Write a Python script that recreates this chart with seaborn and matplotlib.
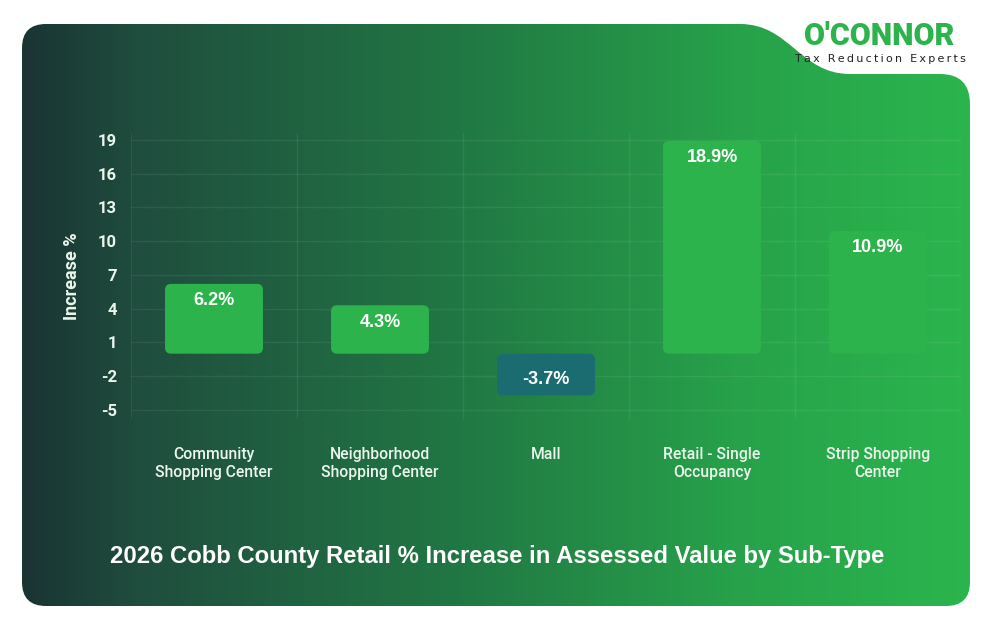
import numpy as np
import pandas as pd
import matplotlib
matplotlib.use("Agg")
import matplotlib.pyplot as plt
import seaborn as sns
from matplotlib.colors import LinearSegmentedColormap
from matplotlib.patches import FancyBboxPatch, PathPatch
from matplotlib.path import Path

# data
categories = ["Community\nShopping Center", "Neighborhood\nShopping Center", "Mall",
              "Retail - Single\nOccupancy", "Strip Shopping\nCenter"]
increase = [6.2, 4.3, -3.7, 18.9, 10.9]
y_ticks = [19, 16, 13, 10, 7, 4, 1, -2, -5]
title = "2026 Cobb County Retail % Increase in Assessed Value by Sub-Type"

GREEN = "#2cb34c"
TEAL = "#1b6c70"
TXT = "#eaf5ec"

sns.set_theme(style="white")
plt.rcParams["font.family"] = ["Roboto", "DejaVu Sans"]

W, H = 994, 632
fig = plt.figure(figsize=(W / 100, H / 100), dpi=100)
fig.patch.set_facecolor("white")

# background card with gradient
bg = fig.add_axes([0, 0, 1, 1], zorder=0)
bg.set_xlim(0, W)
bg.set_ylim(H, 0)
bg.axis("off")
cmap = LinearSegmentedColormap.from_list(
    "card", [(0, "#1a3433"), (0.12, "#1f4d3e"), (0.48, "#217a44"),
             (0.75, "#27a14a"), (1, "#2bb54e")])
grad = np.linspace(0, 1, 512).reshape(1, -1)
im = bg.imshow(grad, cmap=cmap, aspect="auto", extent=[22, 970, 606, 24])
card = FancyBboxPatch((22, 24), 948, 582, boxstyle="round,pad=0,rounding_size=24",
                      facecolor="none", edgecolor="none", transform=bg.transData)
bg.add_patch(card)
im.set_clip_path(card)

# white notch for the logo
verts = [(715, 10), (740, 24), (790, 24), (800, 74), (850, 74), (940, 74),
         (970, 74), (970, 104), (985, 104), (985, 10), (715, 10)]
codes = [Path.MOVETO, Path.LINETO, Path.CURVE4, Path.CURVE4, Path.CURVE4, Path.LINETO,
         Path.CURVE3, Path.CURVE3, Path.LINETO, Path.LINETO, Path.CLOSEPOLY]
bg.add_patch(PathPatch(Path(verts, codes), facecolor="white", edgecolor="none"))
bg.text(879, 36, "O'CONNOR", color=GREEN, fontsize=22, fontweight="black",
        ha="center", va="center", family=["Roboto", "DejaVu Sans"])
bg.text(880, 59, "\u2009".join("Tax Reduction Experts"), color="#222222", fontsize=8,
        ha="center", va="center", family="DejaVu Sans")

# chart
df = pd.DataFrame({"category": categories, "increase": increase})
ax = fig.add_axes([131 / W, 1 - 419 / H, 830 / W, 286 / H], zorder=2)
ax.set_facecolor("none")
sns.barplot(data=df, x="category", y="increase", hue="category",
            palette=[GREEN, GREEN, TEAL, GREEN, GREEN], width=0.59, saturation=1,
            legend=False, ax=ax, zorder=3)
ax.set_xlim(-0.5, 4.5)
ax.set_ylim(-5.8, 19.6)

# rounded bars
fig.canvas.draw()
bb = ax.get_window_extent()
px_x = bb.width / 5.0
px_y = bb.height / 25.4
r = 6
for p in list(ax.patches):
    x0, y0 = p.get_x(), p.get_y()
    w, h = p.get_width(), p.get_height()
    if h < 0:
        y0, h = y0 + h, -h
    fc = p.get_facecolor()
    p.remove()
    ax.add_patch(FancyBboxPatch((x0, y0), w, h,
                                boxstyle=f"round,pad=0,rounding_size={r / px_x}",
                                mutation_aspect=px_x / px_y,
                                facecolor=fc, edgecolor="none", zorder=3))

for i, v in enumerate(increase):
    off = -17 if v > 0 else 16
    ax.annotate(f"{v}%", (i, v), xytext=(0, off), textcoords="offset pixels",
                ha="center", va="center", color="white", fontsize=13,
                fontweight="bold", family=["Liberation Sans", "DejaVu Sans"], zorder=4)

grid_c = (1, 1, 1, 0.07)
for t in y_ticks:
    ax.axhline(t, color=grid_c, lw=1, zorder=1)
for xb in np.arange(-0.5, 5, 1):
    ax.axvline(xb, color=grid_c, lw=1, zorder=1)

ax.set_yticks(y_ticks)
ax.set_yticklabels([str(t) for t in y_ticks], color=TXT, fontsize=12, fontweight="bold")
ax.set_xticks(range(len(categories)))
ax.set_xticklabels(categories, color=TXT, fontsize=11.3, fontweight="medium",
                   linespacing=1.3)
ax.tick_params(axis="x", length=0, pad=20)
ax.tick_params(axis="y", length=0, pad=10)
ax.set_xlabel("")
ax.set_ylabel("Increase %", color=TXT, fontsize=13, fontweight="bold", labelpad=12)
for s in ax.spines.values():
    s.set_visible(False)

fig.text(497 / W, 1 - 556 / H, title, color="white", fontsize=17.2, fontweight="bold",
         ha="center", va="center", family=["Liberation Sans", "DejaVu Sans"], zorder=3)

fig.savefig("out.png", dpi=100, facecolor="white")
